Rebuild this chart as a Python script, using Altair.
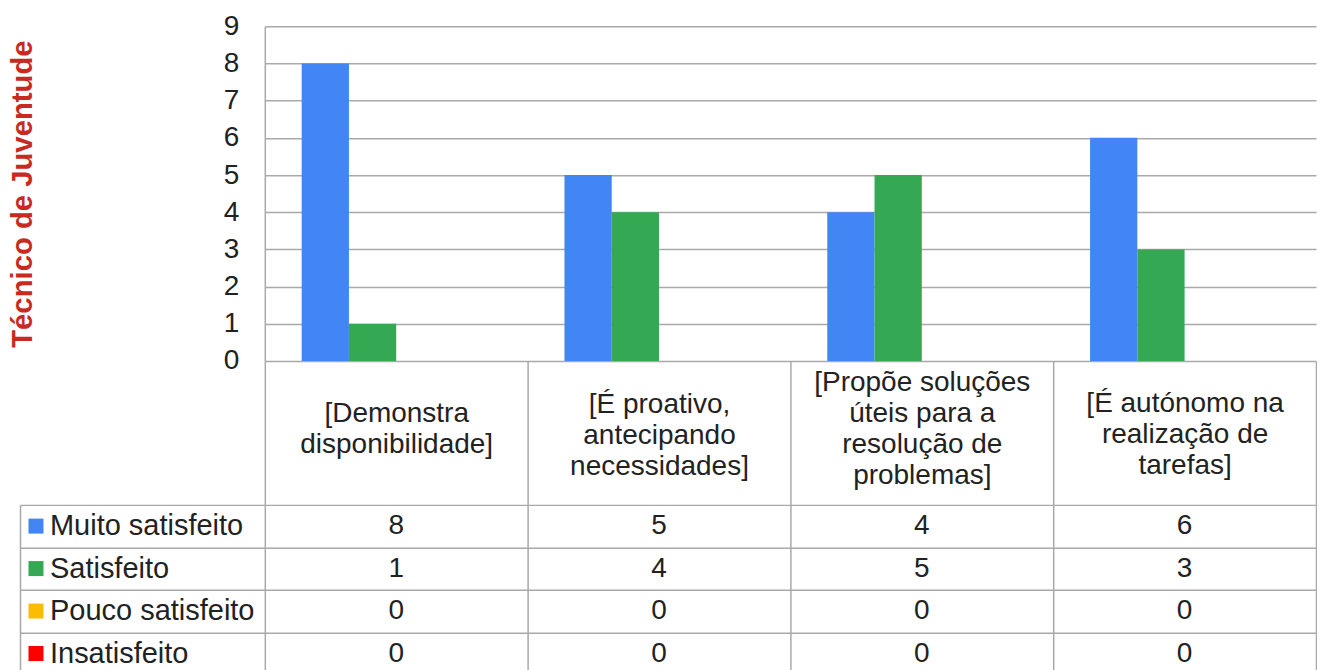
import altair as alt
import pandas as pd

header_lines = [
    ["[Demonstra", "disponibilidade]"],
    ["[É proativo,", "antecipando", "necessidades]"],
    ["[Propõe soluções", "úteis para a", "resolução de", "problemas]"],
    ["[É autónomo na", "realização de", "tarefas]"],
]
categories = [" ".join(lines) for lines in header_lines]
series = ["Muito satisfeito", "Satisfeito", "Pouco satisfeito", "Insatisfeito"]
colors = ["#4285F4", "#34A853", "#FBBC04", "#FF0000"]
muito_satisfeito = [8, 5, 4, 6]
satisfeito = [1, 4, 5, 3]
pouco_satisfeito = [0, 0, 0, 0]
insatisfeito = [0, 0, 0, 0]
y_ticks = list(range(10))
y_title = "Técnico de Juventude"

rows = []
for s, vals in zip(series, [muito_satisfeito, satisfeito, pouco_satisfeito, insatisfeito]):
    for c, v in zip(categories, vals):
        rows.append({"category": c, "series": s, "value": v})
df = pd.DataFrame(rows)
legend_df = pd.DataFrame({"series": series})

GRID = "#a9a9a9"
LW = 1.5
FS = 28
LH = 31
HEADER_H = 144
FONT = "Liberation Sans"
TXT = "#222222"
W = 1052
# vertical position (px below the axis) of each header label's first line
first_line_y = [53, 44, 22, 43]

expr = "datum.label"
for cat, lines in reversed(list(zip(categories, header_lines))):
    arr = "[" + ", ".join("'" + s + "'" for s in lines) + "]"
    expr = f"datum.value == '{cat}' ? {arr} : ({expr})"
pad_conditions = [
    {"test": f"datum.value == '{cat}'", "value": fy - HEADER_H}
    for cat, fy in zip(categories, first_line_y)
]

xscale = alt.Scale(domain=categories, paddingInner=0, paddingOuter=0)
color_scale = alt.Scale(domain=series, range=colors)
row_scale = alt.Scale(domain=series, paddingInner=0, paddingOuter=0)

bars = alt.Chart(df).mark_bar().encode(
    x=alt.X("category:N", scale=xscale, sort=categories, axis=alt.Axis(
        title=None, orient="bottom", labelAngle=0,
        labelExpr=expr,
        labelFontSize=FS, labelLineHeight=LH, labelBaseline="middle",
        labelPadding={"condition": pad_conditions, "value": -100},
        labelLimit=0, labelOverlap=False, labelColor=TXT,
        ticks=True, tickBand="extent", tickSize=HEADER_H, tickColor=GRID, tickWidth=LW,
        domain=False, grid=False)),
    xOffset=alt.XOffset("series:N", sort=series,
                        scale=alt.Scale(domain=series, paddingInner=0, paddingOuter=0.78)),
    y=alt.Y("value:Q", scale=alt.Scale(domain=[0, 9], nice=False), axis=alt.Axis(
        values=y_ticks, title=y_title, titleColor="#C9291F", titleFontSize=29.3,
        titleFontWeight="bold", titlePadding=185, minExtent=42, maxExtent=42,
        labelFontSize=FS, labelPadding=26, labelColor=TXT, ticks=False,
        domain=True, domainColor=GRID, domainWidth=LW,
        grid=True, gridColor=GRID, gridWidth=LW)),
    color=alt.Color("series:N", scale=color_scale, legend=None),
).properties(width=W, height=335)

table_text = alt.Chart(df).mark_text(fontSize=FS, color=TXT, baseline="middle", align="center").encode(
    x=alt.X("category:N", scale=xscale, sort=categories, axis=alt.Axis(
        title=None, labels=False, ticks=False, domain=False, grid=True,
        tickBand="extent", gridColor=GRID, gridWidth=LW)),
    y=alt.Y("series:N", scale=row_scale, sort=series, axis=alt.Axis(
        title=None, labels=False, ticks=False, domain=False, grid=True,
        tickBand="extent", gridColor=GRID, gridWidth=LW)),
    text="value:Q",
).properties(width=W, height=170)

leg_sq = alt.Chart(legend_df).mark_square(size=225, opacity=1).encode(
    x=alt.value(16),
    y=alt.Y("series:N", scale=row_scale, sort=series, axis=alt.Axis(
        title=None, labels=False, ticks=False, domain=True, domainColor=GRID,
        domainWidth=LW, grid=True, tickBand="extent", gridColor=GRID, gridWidth=LW)),
    color=alt.Color("series:N", scale=color_scale, legend=None),
)
leg_tx = alt.Chart(legend_df).mark_text(fontSize=29, align="left", baseline="middle", color=TXT).encode(
    x=alt.value(30),
    y=alt.Y("series:N", scale=row_scale, sort=series),
    text="series:N",
)
legend_col = alt.layer(leg_sq, leg_tx).properties(width=245, height=170)

dummy = alt.Chart(pd.DataFrame({"t": [""]})).mark_text().encode(
    text="t:N"
).properties(width=245, height=335)

chart = alt.concat(
    dummy, bars, legend_col, table_text,
    columns=2,
    spacing=alt.RowColnumber(row=HEADER_H, column=0),
    bounds="flush",
).properties(
    padding={"left": 1, "top": 4, "right": 0, "bottom": 0}
).configure(font=FONT).configure_view(strokeWidth=0)

chart.save("out.html", embed_options={"renderer": "svg", "actions": False})
